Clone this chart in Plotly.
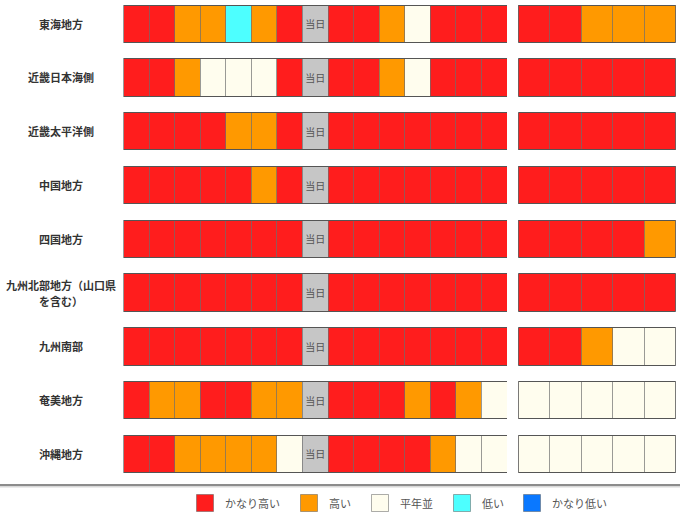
import plotly.graph_objects as go

# ---------------- data ----------------
regions = ["東海地方", "近畿日本海側", "近畿太平洋側", "中国地方", "四国地方",
           "九州北部地方（山口県を含む）", "九州南部", "奄美地方", "沖縄地方"]
region_label_lines = [["東海地方"], ["近畿日本海側"], ["近畿太平洋側"], ["中国地方"], ["四国地方"],
                      ["九州北部地方（山口県", "を含む）"], ["九州南部"], ["奄美地方"], ["沖縄地方"]]

# codes: 5 かなり高い, 4 高い, 3 平年並, 2 低い, 1 かなり低い, 0 当日
daily_codes = [
    [5, 5, 4, 4, 2, 4, 5, 0, 5, 5, 4, 3, 5, 5, 5],
    [5, 5, 4, 3, 3, 3, 5, 0, 5, 5, 4, 3, 5, 5, 5],
    [5, 5, 5, 5, 4, 4, 5, 0, 5, 5, 5, 5, 5, 5, 5],
    [5, 5, 5, 5, 5, 4, 5, 0, 5, 5, 5, 5, 5, 5, 5],
    [5, 5, 5, 5, 5, 5, 5, 0, 5, 5, 5, 5, 5, 5, 5],
    [5, 5, 5, 5, 5, 5, 5, 0, 5, 5, 5, 5, 5, 5, 5],
    [5, 5, 5, 5, 5, 5, 5, 0, 5, 5, 5, 5, 5, 5, 5],
    [5, 4, 4, 5, 5, 4, 4, 0, 5, 5, 5, 4, 5, 4, 3],
    [5, 5, 4, 4, 4, 4, 3, 0, 5, 5, 5, 5, 4, 3, 3],
]
weekly_codes = [
    [5, 5, 4, 4, 4],
    [5, 5, 5, 5, 5],
    [5, 5, 5, 5, 5],
    [5, 5, 5, 5, 5],
    [5, 5, 5, 5, 4],
    [5, 5, 5, 5, 5],
    [5, 5, 4, 3, 3],
    [3, 3, 3, 3, 3],
    [3, 3, 3, 3, 3],
]
today_label = "当日"
legend_codes = [5, 4, 3, 2, 1]
legend_labels = ["かなり高い", "高い", "平年並", "低い", "かなり低い"]

# ---------------- styles ----------------
colors = {5: "#FF1D1D", 4: "#FF9900", 3: "#FFFDEE", 2: "#4DFFFF", 1: "#0A78FF", 0: "#C6C6C6"}
cell_line = "rgba(110,110,110,0.45)"
FONT = "Noto Sans CJK JP"
W, H = 680, 517
NONE = "rgba(0,0,0,0)"

fig = go.Figure()


def add_group(codes_table, fill_axis, line_axis, outline_axis, with_text):
    n = len(codes_table[0])
    # fills
    for j in range(n):
        codes = [row[j] for row in codes_table]
        kw = {}
        if with_text:
            kw = dict(text=[today_label if c == 0 else "" for c in codes],
                      textposition="inside", insidetextanchor="middle",
                      constraintext="none", textangle=0,
                      textfont=dict(size=10, color="#555555", family=FONT))
        fig.add_trace(go.Bar(
            y=regions, x=[1] * len(regions), orientation="h",
            marker=dict(color=[colors[c] for c in codes], line=dict(width=0)),
            xaxis=fill_axis, yaxis="y", showlegend=False, hoverinfo="skip", **kw))
    # dividers (transparent stacked cells drawn on top)
    for j in range(n):
        fig.add_trace(go.Bar(
            y=regions, x=[1] * len(regions), orientation="h",
            marker=dict(color=NONE, line=dict(color=cell_line, width=1)),
            xaxis=line_axis, yaxis="y", showlegend=False, hoverinfo="skip"))
    # outline
    fig.add_trace(go.Bar(
        y=regions, x=[n] * len(regions), orientation="h",
        marker=dict(color=NONE, line=dict(color="#555555", width=1)),
        xaxis=outline_axis, yaxis="y", showlegend=False, hoverinfo="skip"))
    return n


n_day = add_group(daily_codes, "x", "x3", "x4", True)
n_week = add_group(weekly_codes, "x2", "x6", "x7", False)

# custom legend
leg_sq_x = [205, 309, 380, 462, 532]
leg_tx_x = [223, 327, 398, 480, 550]
leg_y = 503
fig.add_trace(go.Scatter(
    x=leg_sq_x, y=[leg_y] * len(legend_codes), mode="markers",
    marker=dict(symbol="square", size=17, color=[colors[c] for c in legend_codes],
                line=dict(color="rgba(90,90,90,0.5)", width=1)),
    xaxis="x5", yaxis="y5", showlegend=False, hoverinfo="skip",
))

annotations = []
for lab, tx in zip(legend_labels, leg_tx_x):
    annotations.append(dict(x=tx, y=leg_y, xref="x5", yref="y5", text=lab, showarrow=False,
                            xanchor="left", yanchor="middle",
                            font=dict(size=11, color="#555555", family=FONT)))
line_gap = 16
for reg, lines in zip(regions, region_label_lines):
    n = len(lines)
    for k, ln in enumerate(lines):
        shift = ((n - 1) / 2 - k) * line_gap
        annotations.append(dict(x=61 / W, y=reg, xref="paper", yref="y", text=ln, showarrow=False,
                                xanchor="center", yanchor="middle", yshift=shift,
                                font=dict(size=11, color="#333333", family=FONT, weight="bold")))

pitch = 53.77
top_center = 23.7
y_top = -top_center / pitch
y_bot = (H - top_center) / pitch

hidden = dict(visible=False, fixedrange=True)
fig.update_layout(
    width=W, height=H, margin=dict(l=0, r=0, t=0, b=0),
    paper_bgcolor="white", plot_bgcolor="rgba(0,0,0,0)",
    barmode="stack", bargap=0.305,
    xaxis=dict(domain=[123.5 / W, 507 / W], range=[0, n_day], anchor="y", **hidden),
    xaxis2=dict(domain=[518.3 / W, 675.7 / W], range=[0, n_week], anchor="y", **hidden),
    xaxis3=dict(overlaying="x", range=[0, n_day], anchor="y", **hidden),
    xaxis4=dict(overlaying="x", range=[0, n_day], anchor="y", **hidden),
    xaxis6=dict(overlaying="x2", range=[0, n_week], anchor="y", **hidden),
    xaxis7=dict(overlaying="x2", range=[0, n_week], anchor="y", **hidden),
    yaxis=dict(type="category", categoryarray=regions, range=[y_bot, y_top], **hidden),
    xaxis5=dict(domain=[0, 1], range=[0, W], anchor="y5", **hidden),
    yaxis5=dict(domain=[0, 1], range=[H, 0], anchor="x5", **hidden),
    annotations=annotations,
    shapes=[
        dict(type="line", xref="paper", yref="paper", x0=0, x1=1,
             y0=1 - 485 / H, y1=1 - 485 / H, line=dict(color="#666666", width=1.5)),
        dict(type="line", xref="paper", yref="paper", x0=0, x1=1,
             y0=1 - 486.8 / H, y1=1 - 486.8 / H, line=dict(color="#d8d8d8", width=1.5)),
    ],
    showlegend=False,
)

fig.write_html("out.html", config={"displayModeBar": False, "staticPlot": True},
               post_script="document.body.style.margin='0';document.body.style.overflow='hidden';")
